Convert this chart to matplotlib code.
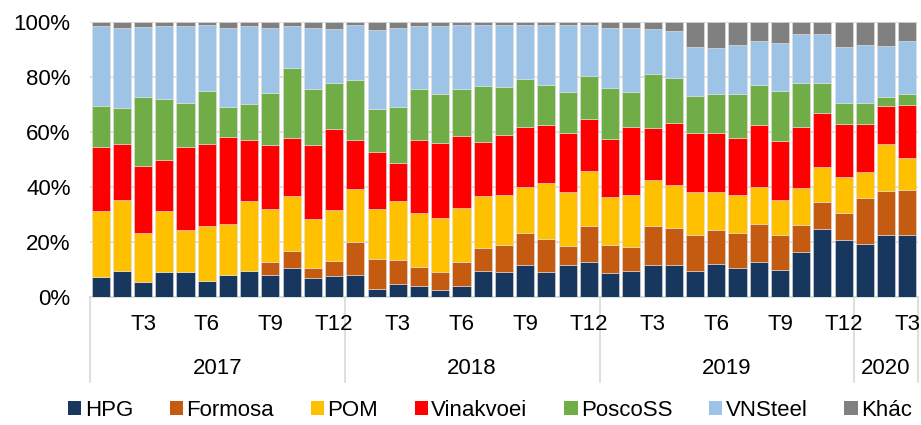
import numpy as np
import matplotlib.pyplot as plt
from matplotlib.patches import Patch

plt.rcParams['font.family'] = ['Liberation Sans', 'DejaVu Sans']

# Thị phần thép (%) theo tháng, T1/2017 - T3/2020
years = ['2017', '2018', '2019', '2020']
months_per_year = [12, 12, 12, 3]
month_labels = {3: 'T3', 6: 'T6', 9: 'T9', 12: 'T12'}

hpg = [7.3, 9.5, 5.5, 9.1, 9.1, 5.7, 7.9, 9.5, 7.9, 10.7, 7.0, 7.8,
       7.9, 3.0, 4.9, 3.9, 2.7, 4.1, 9.5, 9.3, 11.6, 9.3, 11.6, 12.9,
       8.9, 9.6, 11.5, 11.5, 9.6, 12.2, 10.6, 12.6, 9.9, 16.3, 24.6, 20.7,
       19.4, 22.4, 22.4]
formosa = [0, 0, 0, 0, 0, 0, 0, 0, 4.9, 6.1, 3.7, 5.5,
           12.3, 10.7, 8.5, 7.1, 6.6, 8.8, 8.2, 9.5, 11.8, 12.0, 7.1, 13.0,
           10.1, 8.7, 14.4, 13.5, 12.8, 12.2, 12.6, 13.9, 12.5, 9.9, 9.8, 10.0,
           16.6, 16.3, 16.6]
pom = [24.0, 25.9, 17.9, 22.1, 15.3, 20.3, 18.7, 25.3, 19.4, 19.8, 17.6, 18.5,
       19.2, 18.5, 21.4, 19.4, 19.4, 19.4, 19.0, 18.3, 16.8, 20.2, 19.6, 20.1,
       17.5, 18.8, 16.8, 15.6, 15.8, 13.9, 14.0, 13.5, 13.0, 13.3, 12.8, 13.1,
       9.6, 16.9, 11.4]
vinakyoei = [23.3, 20.3, 24.3, 18.7, 30.2, 29.7, 31.7, 22.4, 23.2, 21.2, 27.1, 29.2,
             17.8, 20.6, 14.0, 26.8, 27.4, 26.4, 19.8, 22.0, 21.8, 21.2, 21.5, 18.9,
             21.1, 24.6, 18.9, 22.8, 21.6, 21.5, 20.8, 22.6, 21.4, 22.5, 19.6, 19.0,
             17.4, 13.9, 19.6]
poscoss = [14.9, 13.2, 25.1, 22.2, 15.8, 19.4, 10.8, 12.9, 18.9, 25.4, 20.1, 16.9,
           21.7, 15.7, 20.3, 18.3, 17.6, 16.8, 20.2, 17.2, 17.3, 14.3, 14.6, 15.6,
           18.6, 12.7, 19.4, 16.1, 13.4, 13.9, 15.7, 14.4, 18.2, 16.0, 10.9, 7.9,
           7.7, 3.4, 4.0]
vnsteel = [29.0, 28.9, 25.4, 26.3, 28.0, 23.8, 28.8, 28.3, 23.7, 15.2, 22.2, 19.7,
           20.1, 28.5, 28.7, 23.0, 24.8, 23.5, 22.1, 22.5, 19.5, 21.8, 24.4, 18.3,
           21.6, 23.4, 16.6, 17.2, 17.9, 16.8, 18.0, 16.3, 17.3, 17.7, 18.0, 20.2,
           21.0, 18.3, 19.3]
khac = [1.5, 2.2, 1.8, 1.6, 1.6, 1.1, 2.1, 1.6, 2.0, 1.6, 2.3, 2.4,
        1.0, 3.0, 2.2, 1.5, 1.5, 1.0, 1.2, 1.2, 1.2, 1.2, 1.2, 1.2,
        2.2, 2.2, 2.4, 3.3, 8.9, 9.5, 8.3, 6.7, 7.7, 4.3, 4.3, 9.1,
        8.3, 8.8, 6.7]

series = [('HPG', hpg, '#17375E'),
          ('Formosa', formosa, '#C55A11'),
          ('POM', pom, '#FFC000'),
          ('Vinakvoei', vinakyoei, '#FF0000'),
          ('PoscoSS', poscoss, '#70AD47'),
          ('VNSteel', vnsteel, '#9DC3E6'),
          ('Khác', khac, '#808080')]

data = np.array([s[1] for s in series], dtype=float)
data = data / data.sum(axis=0) * 100  # chuẩn hoá về 100%
n = data.shape[1]
x = np.arange(n)

fig = plt.figure(figsize=(9.21, 4.25), dpi=100)
ax = fig.add_axes([0.0977, 0.301, 0.899, 0.647])

bottom = np.zeros(n)
for (name, _, color), vals in zip(series, data):
    ax.bar(x, vals, bottom=bottom, width=0.85, color=color,
           edgecolor='#E0E0E0', linewidth=0.4, zorder=3)
    bottom += vals

ax.set_xlim(-0.5, n - 0.5)
ax.set_ylim(0, 100)
ax.set_yticks(range(0, 101, 20))
ax.set_yticklabels([f'{v}%' for v in range(0, 101, 20)])
ax.tick_params(axis='y', length=0, pad=14, labelsize=16)
ax.grid(axis='y', color='#D9D9D9', linewidth=1.2, zorder=0)
for s in ['top', 'right', 'left']:
    ax.spines[s].set_visible(False)
ax.spines['bottom'].set_color('#D9D9D9')
ax.spines['bottom'].set_linewidth(1.2)
ax.set_xticks([])

# nhãn trục x hai cấp: tháng và năm
trans = ax.get_xaxis_transform()
start = 0
bounds = [0]
for yr, cnt in zip(years, months_per_year):
    for m in range(1, cnt + 1):
        if m in month_labels:
            ax.text(start + m - 1, -0.098, month_labels[m], transform=trans,
                    ha='center', va='center', fontsize=16)
    ax.text(start + (cnt - 1) / 2, -0.258, yr, transform=trans,
            ha='center', va='center', fontsize=16)
    start += cnt
    bounds.append(start)
for b in bounds:
    ax.plot([b - 0.5, b - 0.5], [0, -0.31], transform=trans, color='#D9D9D9',
            linewidth=1.2, clip_on=False)

handles = [Patch(facecolor=c, label=name) for name, _, c in series]
fig.legend(handles=handles, loc='center', bbox_to_anchor=(0.532, 0.035),
           ncol=7, frameon=False, fontsize=16, handlelength=0.6,
           handleheight=0.6, handletextpad=0.15, columnspacing=1.65)

fig.savefig('out.png', dpi=100)
